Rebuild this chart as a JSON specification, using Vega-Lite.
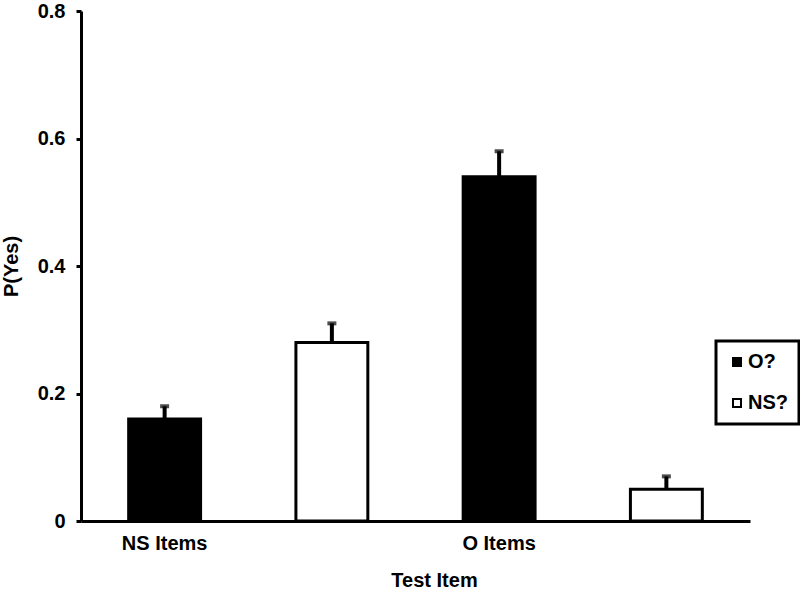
{
  "$schema": "https://vega.github.io/schema/vega-lite/v6.json",
  "autosize": {"type": "none"},
  "padding": {"left": 81, "top": 11, "right": 50, "bottom": 68},
  "width": 669,
  "height": 510,
  "background": "white",
  "config": {
    "view": {"stroke": null},
    "font": "Liberation Sans",
    "axis": {
      "labelFont": "Liberation Sans",
      "titleFont": "Liberation Sans",
      "labelFontWeight": "bold",
      "titleFontWeight": "bold",
      "labelFontSize": 20,
      "titleFontSize": 20,
      "labelColor": "black",
      "titleColor": "black",
      "domainColor": "black",
      "domainWidth": 3,
      "tickColor": "black",
      "tickWidth": 3,
      "grid": false
    },
    "legend": {
      "labelFont": "Liberation Sans",
      "labelFontWeight": "bold",
      "labelFontSize": 20,
      "labelColor": "black"
    }
  },
  "data": {
    "values": [
      {"item": "NS Items", "question": "O?", "slot": "NS Items O?", "p": 0.16, "err": 0.18},
      {"item": "NS Items", "question": "NS?", "slot": "NS Items NS?", "p": 0.28, "err": 0.31},
      {"item": "O Items", "question": "O?", "slot": "O Items O?", "p": 0.54, "err": 0.58},
      {"item": "O Items", "question": "NS?", "slot": "O Items NS?", "p": 0.05, "err": 0.07}
    ]
  },
  "encoding": {
    "x": {
      "field": "slot",
      "type": "nominal",
      "sort": ["NS Items O?", "NS Items NS?", "O Items O?", "O Items NS?"],
      "scale": {"paddingInner": 0, "paddingOuter": 0},
      "axis": {
        "title": "Test Item",
        "labelAngle": 0,
        "ticks": false,
        "labelPadding": 12,
        "labelExpr": "datum.value == 'NS Items O?' ? 'NS Items' : (datum.value == 'O Items O?' ? 'O Items' : '')",
        "titleX": 353,
        "titleY": 65,
        "titleBaseline": "alphabetic"
      }
    }
  },
  "layer": [
    {
      "mark": {"type": "bar", "width": {"band": 0.43}, "stroke": "black", "strokeWidth": 3},
      "encoding": {
        "y": {
          "field": "p",
          "type": "quantitative",
          "scale": {"domain": [0, 0.8], "nice": false},
          "axis": {
            "title": "P(Yes)",
            "values": [0, 0.2, 0.4, 0.6, 0.8],
            "format": ".1~f",
            "tickSize": 5,
            "labelPadding": 11,
            "titleX": -70,
            "titleY": 255,
            "titleAngle": -90,
            "titleBaseline": "middle",
            "titleAlign": "center"
          }
        },
        "fill": {
          "field": "question",
          "type": "nominal",
          "scale": {"domain": ["O?", "NS?"], "range": ["black", "white"]},
          "legend": {
            "title": null,
            "orient": "none",
            "legendX": 635,
            "legendY": 330,
            "symbolType": "square",
            "symbolSize": 64,
            "symbolStrokeColor": "black",
            "symbolStrokeWidth": 2,
            "labelOffset": 1,
            "rowPadding": 21,
            "padding": 11,
            "strokeColor": "black",
            "encode": {"legend": {"update": {"strokeWidth": {"value": 3}}}}
          }
        }
      }
    },
    {
      "mark": {"type": "rule", "color": "black", "strokeWidth": 4},
      "encoding": {
        "y": {"field": "p", "type": "quantitative"},
        "y2": {"field": "err"}
      }
    },
    {
      "mark": {"type": "tick", "color": "black", "thickness": 4, "size": 9, "orient": "horizontal"},
      "encoding": {
        "y": {"field": "err", "type": "quantitative"}
      }
    }
  ]
}
